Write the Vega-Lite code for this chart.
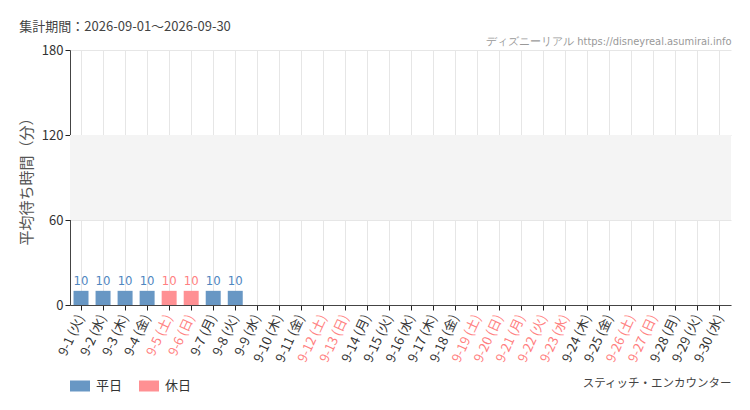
{
  "$schema": "https://vega.github.io/schema/vega-lite/v6.json",
  "width": 661,
  "height": 255,
  "autosize": "none",
  "padding": {"left": 70, "top": 50, "right": 19, "bottom": 105},
  "background": "#ffffff",
  "title": {
    "text": "集計期間：2026-09-01～2026-09-30",
    "anchor": "start",
    "frame": "bounds",
    "font": "Noto Sans CJK JP",
    "fontSize": 13,
    "fontWeight": "normal",
    "color": "#444444",
    "offset": 1
  },
  "data": {
    "values": [
      {"day": "9-1 (火)", "wait": 10, "type": "平日"},
      {"day": "9-2 (水)", "wait": 10, "type": "平日"},
      {"day": "9-3 (木)", "wait": 10, "type": "平日"},
      {"day": "9-4 (金)", "wait": 10, "type": "平日"},
      {"day": "9-5 (土)", "wait": 10, "type": "休日"},
      {"day": "9-6 (日)", "wait": 10, "type": "休日"},
      {"day": "9-7 (月)", "wait": 10, "type": "平日"},
      {"day": "9-8 (火)", "wait": 10, "type": "平日"},
      {"day": "9-9 (水)", "wait": null, "type": "平日"},
      {"day": "9-10 (木)", "wait": null, "type": "平日"},
      {"day": "9-11 (金)", "wait": null, "type": "平日"},
      {"day": "9-12 (土)", "wait": null, "type": "休日"},
      {"day": "9-13 (日)", "wait": null, "type": "休日"},
      {"day": "9-14 (月)", "wait": null, "type": "平日"},
      {"day": "9-15 (火)", "wait": null, "type": "平日"},
      {"day": "9-16 (水)", "wait": null, "type": "平日"},
      {"day": "9-17 (木)", "wait": null, "type": "平日"},
      {"day": "9-18 (金)", "wait": null, "type": "平日"},
      {"day": "9-19 (土)", "wait": null, "type": "休日"},
      {"day": "9-20 (日)", "wait": null, "type": "休日"},
      {"day": "9-21 (月)", "wait": null, "type": "休日"},
      {"day": "9-22 (火)", "wait": null, "type": "休日"},
      {"day": "9-23 (水)", "wait": null, "type": "休日"},
      {"day": "9-24 (木)", "wait": null, "type": "平日"},
      {"day": "9-25 (金)", "wait": null, "type": "平日"},
      {"day": "9-26 (土)", "wait": null, "type": "休日"},
      {"day": "9-27 (日)", "wait": null, "type": "休日"},
      {"day": "9-28 (月)", "wait": null, "type": "平日"},
      {"day": "9-29 (火)", "wait": null, "type": "平日"},
      {"day": "9-30 (水)", "wait": null, "type": "平日"}
    ]
  },
  "layer": [
    {
      "data": {"values": [{"lo": 60, "hi": 120}]},
      "mark": {"type": "rect", "color": "#f4f4f4"},
      "encoding": {
        "y": {
          "field": "lo",
          "type": "quantitative",
          "scale": {"domain": [0, 180]},
          "axis": {
            "values": [0, 60, 120, 180],
            "labelFont": "Noto Sans CJK JP",
            "labelFontSize": 13,
            "labelColor": "#333333",
            "tickColor": "#222222",
            "tickSize": 5,
            "domainColor": "#444444",
            "gridColor": "#e6e6e6",
            "title": "平均待ち時間（分）",
            "titleFont": "Noto Sans CJK JP",
            "titleFontSize": 15,
            "titleFontWeight": "normal",
            "titleColor": "#555555",
            "titlePadding": 7
          }
        },
        "y2": {"field": "hi"}
      }
    },
    {
      "mark": {"type": "bar"},
      "encoding": {
        "x": {
          "field": "day",
          "type": "nominal",
          "sort": null,
          "scale": {"paddingInner": 0.32},
          "axis": {
            "orient": "bottom",
            "labelAngle": -65,
            "labelAlign": "right",
            "labelBaseline": "middle",
            "labelFont": "Noto Sans CJK JP",
            "labelFontSize": 13,
            "labelPadding": 5,
            "labelColor": {
              "condition": {
                "test": "indexof(['9-5 (土)','9-6 (日)','9-12 (土)','9-13 (日)','9-19 (土)','9-20 (日)','9-21 (月)','9-22 (火)','9-23 (水)','9-26 (土)','9-27 (日)'], datum.value) >= 0",
                "value": "#ff8080"
              },
              "value": "#333333"
            },
            "tickColor": "#222222",
            "tickSize": 5,
            "domainColor": "#444444",
            "grid": true,
            "gridColor": "#e6e6e6",
            "title": "スティッチ・エンカウンター",
            "titleAnchor": "end",
            "titleFont": "Noto Sans CJK JP",
            "titleFontSize": 11.5,
            "titleFontWeight": "normal",
            "titleColor": "#444444",
            "titleY": 72
          }
        },
        "y": {"field": "wait", "type": "quantitative"},
        "color": {
          "field": "type",
          "type": "nominal",
          "scale": {"domain": ["平日", "休日"], "range": ["#6897c4", "#ff9093"]},
          "legend": {
            "orient": "none",
            "legendX": 0,
            "legendY": 326,
            "direction": "horizontal",
            "title": null,
            "symbolType": "M-1,-0.55H1V0.55H-1Z",
            "symbolSize": 400,
            "symbolStrokeWidth": 0,
            "symbolOpacity": 1,
            "labelFont": "Noto Sans CJK JP",
            "labelFontSize": 13,
            "labelColor": "#333333",
            "labelOffset": 6,
            "columnPadding": 16
          }
        }
      }
    },
    {
      "mark": {
        "type": "text",
        "dy": -10,
        "font": "DejaVu Sans Condensed, Liberation Sans Narrow, sans-serif",
        "fontSize": 13
      },
      "encoding": {
        "x": {
          "field": "day",
          "type": "nominal",
          "sort": null,
          "axis": {
            "orient": "top",
            "labels": false,
            "ticks": false,
            "domain": false,
            "grid": false,
            "title": "ディズニーリアル https://disneyreal.asumirai.info",
            "titleAnchor": "end",
            "titleFont": "DejaVu Sans Condensed, Liberation Sans Narrow, sans-serif",
            "titleFontSize": 11,
            "titleFontWeight": "normal",
            "titleColor": "#999999",
            "titleY": -4
          }
        },
        "y": {"field": "wait", "type": "quantitative"},
        "text": {"field": "wait", "type": "quantitative"},
        "color": {
          "field": "type",
          "type": "nominal",
          "scale": {"domain": ["平日", "休日"], "range": ["#4f86bf", "#ff7f82"]},
          "legend": null
        }
      }
    }
  ],
  "resolve": {"axis": {"x": "independent"}, "scale": {"color": "independent"}},
  "config": {
    "view": {"stroke": null},
    "mark": {"invalid": "break-paths-show-domains"},
    "axis": {"gridColor": "#e6e6e6"}
  }
}
